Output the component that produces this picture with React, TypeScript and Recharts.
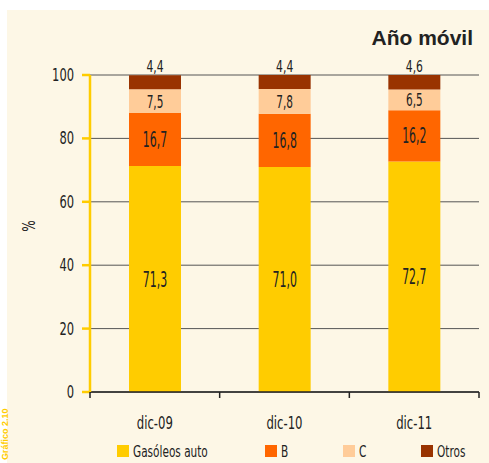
import { BarChart, Bar, XAxis, YAxis, CartesianGrid, LabelList } from "recharts";

const periods = ["dic-09", "dic-10", "dic-11"];
const gasoleosAuto = [71.3, 71.0, 72.7];
const gasoleoB = [16.7, 16.8, 16.2];
const gasoleoC = [7.5, 7.8, 6.5];
const otros = [4.4, 4.4, 4.6];
const yTicks = [0, 20, 40, 60, 80, 100];

const series = [
  { key: "auto", name: "Gasóleos auto", color: "#FFCC00" },
  { key: "b", name: "B", color: "#FF6600" },
  { key: "c", name: "C", color: "#FFCC99" },
  { key: "otros", name: "Otros", color: "#993300" },
];

const data = periods.map((p, i) => ({
  period: p,
  auto: gasoleosAuto[i],
  b: gasoleoB[i],
  c: gasoleoC[i],
  otros: otros[i],
}));

const FONT = "'DejaVu Sans Condensed', 'DejaVu Sans', sans-serif";
const INK = "#222";
const fmt = (v: any) => Number(v).toFixed(1).replace(".", ",");

const W = 489;
const H = 463;
const PLOT_LEFT = 90;
const PLOT_RIGHT = 479;
const BAND = (PLOT_RIGHT - PLOT_LEFT) / periods.length;

// condensed text: the original uses a tall narrow face, so squeeze horizontally
const NText = ({ x, y, size, sx = 0.7, anchor = "middle", fill = INK, children }: any) => (
  <text
    transform={`translate(${x},${y}) scale(${sx},1)`}
    textAnchor={anchor}
    fontSize={size}
    fontFamily={FONT}
    fill={fill}
  >
    {children}
  </text>
);

const XTick = (props: any) => {
  const { x, y, payload, index } = props;
  return (
    <g>
      <line x1={x - BAND / 2} y1={y - 8} x2={x - BAND / 2} y2={y - 2} stroke={INK} strokeWidth={1.5} />
      {index === periods.length - 1 && (
        <line x1={x + BAND / 2} y1={y - 8} x2={x + BAND / 2} y2={y - 2} stroke={INK} strokeWidth={1.5} />
      )}
      <NText x={x} y={y + 29} size={18} sx={0.72}>
        {payload.value}
      </NText>
    </g>
  );
};

const YTick = (props: any) => {
  const { x, y, payload } = props;
  return (
    <NText x={x - 6} y={y + 6} size={17} sx={0.75} anchor="end">
      {payload.value}
    </NText>
  );
};

const makeLabel = (top: boolean) => (props: any) => {
  const { x, y, width, height, value } = props;
  if (top) {
    return (
      <NText x={x + width / 2} y={y - 3} size={15} sx={0.8}>
        {fmt(value)}
      </NText>
    );
  }
  const size = height > 30 ? 21 : 18;
  return (
    <NText x={x + width / 2} y={y + height / 2 + size * 0.36} size={size} sx={height > 30 ? 0.58 : 0.65}>
      {fmt(value)}
    </NText>
  );
};

const legendX = [117, 265, 343, 421];

export default function App() {
  return (
    <div style={{ position: "fixed", left: 0, top: 0, width: W, height: H, background: "#fff", overflow: "hidden" }}>
      <div style={{ position: "absolute", left: 7, top: 10, right: 0, bottom: 0, background: "#FDF7E6" }} />
      <div style={{ position: "absolute", left: 0, top: 0 }}>
        <BarChart
          width={W}
          height={H}
          data={data}
          margin={{ top: 75, right: W - PLOT_RIGHT, left: 40, bottom: 41 }}
          barSize={52}
        >
          <CartesianGrid vertical={false} stroke="#555" strokeWidth={1} />
          <XAxis
            dataKey="period"
            height={30}
            axisLine={{ stroke: INK, strokeWidth: 1.5 }}
            tickLine={false}
            tick={<XTick />}
            interval={0}
          />
          <YAxis
            width={50}
            domain={[0, 100]}
            ticks={yTicks}
            axisLine={{ stroke: "#FFCC00", strokeWidth: 2.5 }}
            tickLine={{ stroke: "#FFCC00", strokeWidth: 2.5 }}
            tickSize={8}
            tick={<YTick />}
          />
          {series.map((s, i) => (
            <Bar key={s.key} dataKey={s.key} name={s.name} stackId="a" fill={s.color} isAnimationActive={false}>
              <LabelList dataKey={s.key} content={makeLabel(i === series.length - 1)} />
            </Bar>
          ))}
        </BarChart>
      </div>
      <svg style={{ position: "absolute", left: 0, top: 0, pointerEvents: "none" }} width={W} height={H}>
        <text
          transform="translate(8, 460) rotate(-90)"
          fill="#FFCC00"
          fontSize={9}
          fontWeight="bold"
          fontFamily="'Liberation Sans', sans-serif"
        >
          Gráfico 2.10
        </text>
        <text x={473} y={45} textAnchor="end" fill={INK} fontSize={21} fontWeight="bold" fontFamily="'Liberation Sans', Arial, sans-serif">
          Año móvil
        </text>
        <g transform="translate(35, 226) rotate(-90)">
          <NText x={0} y={0} size={18} sx={0.75}>
            %
          </NText>
        </g>
        {series.map((s, i) => (
          <g key={s.key}>
            <rect x={legendX[i]} y={445} width={12} height={12} fill={s.color} />
            <NText x={legendX[i] + 16} y={457} size={15} sx={0.78} anchor="start">
              {s.name}
            </NText>
          </g>
        ))}
      </svg>
    </div>
  );
}
